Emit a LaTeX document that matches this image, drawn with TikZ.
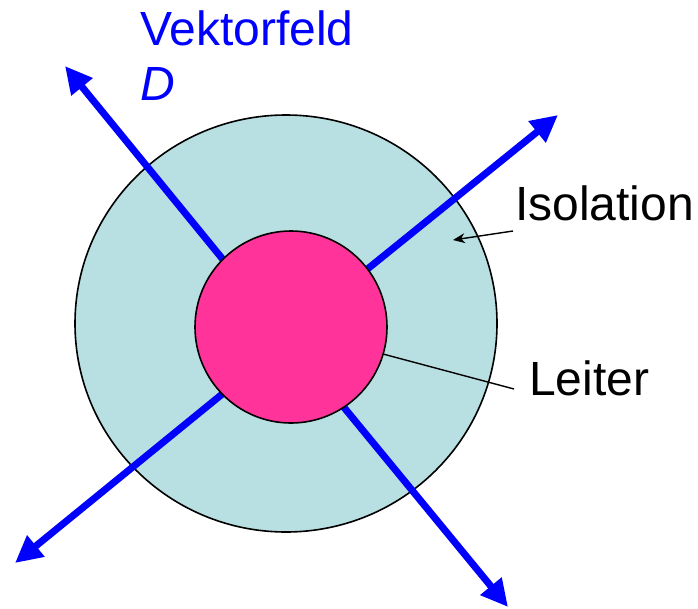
\documentclass[tikz,border=0pt]{standalone}
\usepackage{fontspec}
\setmainfont{Liberation Sans}
\usetikzlibrary{arrows.meta,shapes.geometric}
\definecolor{isol}{RGB}{184,223,226}
\definecolor{leiter}{RGB}{255,51,153}
\definecolor{vblue}{RGB}{0,0,255}
\tikzset{
  fieldarrow/.style={draw=vblue, line width=7pt, -{Triangle[length=27pt,width=26pt]}},
  lbl/.style={anchor=base west, inner sep=0pt, font=\fontsize{48}{57}\selectfont},
  pointer/.style={draw=black, line width=1.4pt}
}
\begin{document}
\begin{tikzpicture}[x=1pt,y=-1pt]
\useasboundingbox (0,0) rectangle (698,608);
\node[ellipse, draw=black, line width=1.6pt, fill=isol, minimum width=422pt, minimum height=417pt, inner sep=0pt] (outer) at (286,323.5) {};
% field arrows
\coordinate (s1) at (225,262);
\coordinate (t1) at (65,66);
\coordinate (s2) at (365,271);
\coordinate (t2) at (558,115);
\coordinate (s3) at (226,391);
\coordinate (t3) at (15,563);
\coordinate (s4) at (342,405);
\coordinate (t4) at (508,607);
\draw[fieldarrow] (s1) -- (t1);
\draw[fieldarrow] (s2) -- (t2);
\draw[fieldarrow] (s3) -- (t3);
\draw[fieldarrow] (s4) -- (t4);
\node[circle, draw=black, line width=1.6pt, fill=leiter, minimum size=192pt, inner sep=0pt] (inner) at (291,327) {};
% labels
\node[lbl, text=vblue] (vf) at (140,45) {Vektorfeld};
\node[lbl, text=vblue] (dd) at (140,100) {\itshape D};
\node[lbl] (iso) at (515,220) {Isolation};
\node[lbl] (lei) at (529,395) {Leiter};
% pointers
\coordinate (pi1) at (513,231);
\coordinate (pi2) at (453,240);
\draw[pointer, -{Stealth[length=12pt,width=10pt]}] (pi1) -- (pi2);
\coordinate (pl1) at (383,354);
\coordinate (pl2) at (514,389);
\draw[pointer] (pl1) -- (pl2);
\end{tikzpicture}
\end{document}
